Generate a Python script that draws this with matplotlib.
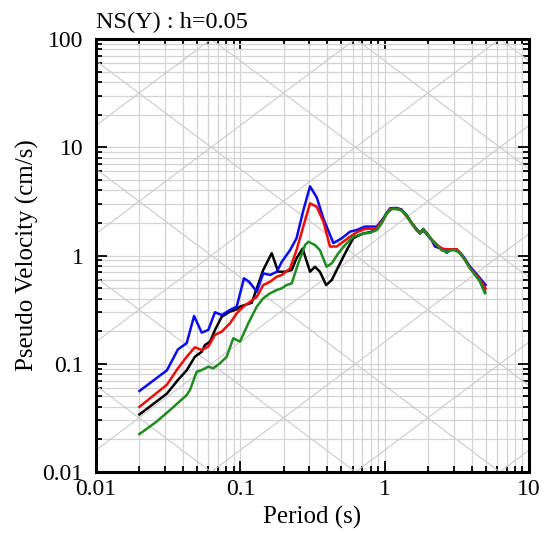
#!/usr/bin/env python

import numpy as np
import matplotlib
matplotlib.use('Agg')
import matplotlib.pyplot as plt
from matplotlib.ticker import LogLocator, NullFormatter, FixedLocator, FixedFormatter

plt.rcParams['font.family'] = ['Liberation Serif', 'DejaVu Serif']

TITLE = 'NS(Y) : h=0.05'
XLABEL = 'Period (s)'
YLABEL = 'Pseudo Velocity (cm/s)'

XTICKS = [0.01, 0.1, 1, 10]
XTICK_LABELS = ['0.01', '0.1', '1', '10']
YTICKS = [0.01, 0.1, 1, 10, 100]
YTICK_LABELS = ['0.01', '0.1', '1', '10', '100']

# black
T_black = [0.020, 0.031, 0.037, 0.0425, 0.0484, 0.054, 0.0569, 0.0617, 0.0667, 0.0743,
           0.0847, 0.0944, 0.0995, 0.120, 0.144, 0.165, 0.183, 0.204, 0.227, 0.245,
           0.270, 0.304, 0.329, 0.356, 0.393, 0.430, 0.491, 0.546, 0.607, 0.711,
           0.791, 0.882, 0.953, 1.03, 1.12, 1.21, 1.31, 1.42, 1.54, 1.67, 1.76, 1.85,
           1.95, 2.12, 2.30, 2.48, 2.69, 2.84, 3.07, 3.33, 3.61, 3.90, 4.23, 4.58, 4.95]
V_black = [0.034, 0.053, 0.071, 0.087, 0.116, 0.129, 0.149, 0.160, 0.205, 0.272,
           0.303, 0.318, 0.337, 0.366, 0.735, 1.05, 0.708, 0.708, 0.735, 0.942,
           1.16, 0.708, 0.787, 0.708, 0.533, 0.594, 0.847, 1.12, 1.45, 1.60,
           1.64, 1.74, 2.00, 2.48, 2.72, 2.72, 2.62, 2.36, 2.00, 1.74, 1.62, 1.76,
           1.62, 1.40, 1.26, 1.13, 1.09, 1.13, 1.13, 1.06, 0.92, 0.77, 0.67, 0.58, 0.46]

# blue
T_blue = [0.020, 0.031, 0.037, 0.0425, 0.0478, 0.054, 0.060, 0.0667, 0.0743, 0.0847,
          0.0944, 0.106, 0.115, 0.130, 0.144, 0.161, 0.179, 0.194, 0.221, 0.245,
          0.273, 0.304, 0.338, 0.376, 0.441, 0.504, 0.575, 0.640, 0.731, 0.881,
          0.98, 1.09, 1.21, 1.31, 1.42, 1.54, 1.67, 1.76, 1.85, 1.95, 2.12, 2.23, 2.55,
          2.69, 2.84, 3.16, 3.51, 3.90, 4.23, 4.58, 5.0]
V_blue = [0.056, 0.087, 0.136, 0.155, 0.276, 0.194, 0.205, 0.299, 0.282, 0.314,
          0.337, 0.615, 0.573, 0.463, 0.684, 0.661, 0.708, 0.877, 1.12, 1.44,
          2.60, 4.35, 3.45, 2.20, 1.30, 1.44, 1.66, 1.72, 1.85, 1.85,
          2.21, 2.73, 2.75, 2.66, 2.32, 1.98, 1.72, 1.60, 1.70, 1.58, 1.38, 1.21, 1.14,
          1.06, 1.12, 1.14, 0.975, 0.79, 0.70, 0.615, 0.535]

# red
T_red = [0.020, 0.031, 0.037, 0.0425, 0.0484, 0.054, 0.060, 0.0667, 0.0743, 0.0847,
         0.0944, 0.105, 0.117, 0.130, 0.144, 0.161, 0.179, 0.194, 0.221, 0.245,
         0.273, 0.304, 0.338, 0.376, 0.418, 0.465, 0.516, 0.575, 0.640, 0.731,
         0.881, 0.98, 1.09, 1.21, 1.31, 1.42, 1.54, 1.67, 1.76, 1.85, 1.95, 2.12,
         2.30, 2.55, 2.84, 3.16, 3.51, 3.90, 4.23, 4.58, 5.0]
V_red = [0.040, 0.064, 0.091, 0.116, 0.142, 0.134, 0.144, 0.185, 0.198, 0.236,
         0.292, 0.337, 0.374, 0.416, 0.533, 0.573, 0.637, 0.661, 0.760, 1.12,
         1.85, 3.03, 2.82, 2.06, 1.21, 1.21, 1.34, 1.49, 1.64, 1.76,
         1.78, 2.16, 2.69, 2.70, 2.62, 2.30, 1.98, 1.70, 1.60, 1.73, 1.60, 1.39,
         1.24, 1.15, 1.14, 1.14, 0.955, 0.77, 0.68, 0.596, 0.495]

# green
T_green = [0.020, 0.0263, 0.0326, 0.0425, 0.0448, 0.0499, 0.054, 0.060, 0.065, 0.0723,
           0.0804, 0.0893, 0.0995, 0.1135, 0.130, 0.144, 0.161, 0.179, 0.194, 0.209,
           0.227, 0.252, 0.281, 0.296, 0.329, 0.356, 0.396, 0.430, 0.478, 0.531,
           0.607, 0.711, 0.791, 0.882, 0.953, 1.03, 1.12, 1.21, 1.31, 1.42, 1.54,
           1.67, 1.76, 1.85, 1.95, 2.12, 2.30, 2.48, 2.69, 2.84, 3.07, 3.33, 3.61,
           3.90, 4.23, 4.58, 4.95]
V_green = [0.0224, 0.0292, 0.0374, 0.0514, 0.0573, 0.0845, 0.0875, 0.094, 0.0908, 0.101,
           0.116, 0.172, 0.160, 0.236, 0.337, 0.402, 0.448, 0.480, 0.498, 0.533,
           0.553, 0.847, 1.25, 1.34, 1.25, 1.12, 0.787, 0.847, 1.05, 1.25,
           1.49, 1.60, 1.62, 1.72, 1.98, 2.45, 2.69, 2.69, 2.60, 2.34, 1.98,
           1.72, 1.60, 1.75, 1.60, 1.39, 1.25, 1.12, 1.08, 1.12, 1.12, 1.05, 0.908,
           0.760, 0.661, 0.573, 0.448]

series = [(T_black, V_black, 'black'),
          (T_blue, V_blue, '#0a0af0'),
          (T_red, V_red, '#f00a0a'),
          (T_green, V_green, '#1e8c1e')]

W, H = 544, 533
fig = plt.figure(figsize=(W / 100, H / 100), dpi=100)
ax = fig.add_axes([96 / W, 1 - 472 / H, 433 / W, 433 / H])
ax.set_xscale('log')
ax.set_yscale('log')
ax.set_xlim(0.01, 10)
ax.set_ylim(0.01, 100)

# tripartite diagonals: constant displacement (cm) and acceleration (cm/s2)
lt = np.linspace(-2, 1, 50)
c = np.log10(2 * np.pi)
for d in range(-7, 5):
    ax.plot(10 ** lt, 10 ** (c + d - lt), color='#cbcbcb', lw=0.8, zorder=1)
for a in range(-3, 7):
    ax.plot(10 ** lt, 10 ** (a - c + lt), color='#cbcbcb', lw=0.8, zorder=1)

ax.grid(True, which='both', color='#d4d4d4', lw=0.9, zorder=0)
ax.set_axisbelow(True)

for t, v, col in series:
    ax.plot(t, v, color=col, lw=1.8, zorder=3)

ax.xaxis.set_major_locator(FixedLocator(XTICKS))
ax.xaxis.set_major_formatter(FixedFormatter(XTICK_LABELS))
ax.yaxis.set_major_locator(FixedLocator(YTICKS))
ax.yaxis.set_major_formatter(FixedFormatter(YTICK_LABELS))
ax.xaxis.set_minor_locator(LogLocator(base=10, subs=np.arange(2, 10)))
ax.yaxis.set_minor_locator(LogLocator(base=10, subs=np.arange(2, 10)))
ax.xaxis.set_minor_formatter(NullFormatter())
ax.yaxis.set_minor_formatter(NullFormatter())

ax.tick_params(which='both', direction='in', top=True, right=True, labelsize=17, width=1.3)
ax.tick_params(which='major', length=8)
ax.tick_params(which='minor', length=4.5)
ax.tick_params(axis='x', pad=5)
ax.tick_params(axis='y', pad=9)
for s in ax.spines.values():
    s.set_linewidth(2.2)
    s.set_zorder(5)

fig.text(96 / W, 1 - 28 / H, TITLE, fontsize=17.5, ha='left', va='baseline')
fig.text(312 / W, 1 - 517 / H, XLABEL, fontsize=18, ha='center', va='center')
fig.text(27 / W, 1 - 255 / H, YLABEL, fontsize=18, ha='center', va='center', rotation=90)

plt.savefig('out.png', dpi=100)
